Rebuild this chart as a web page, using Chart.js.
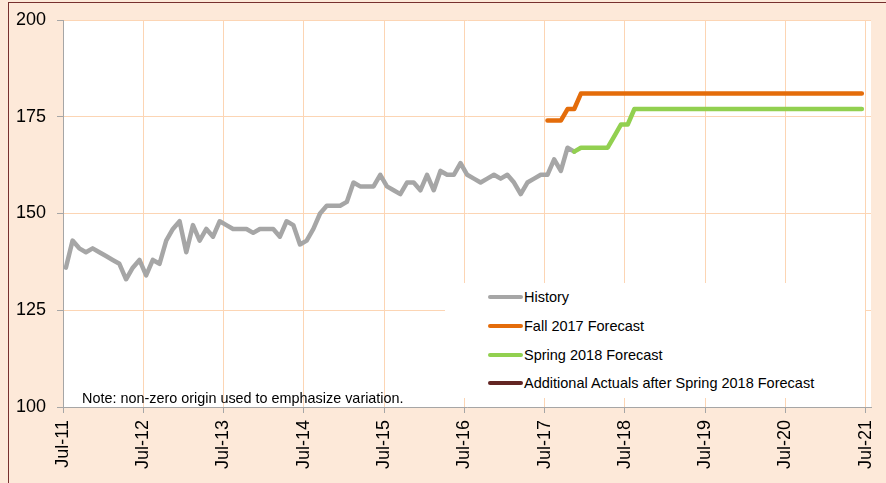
<!DOCTYPE html>
<html><head><meta charset="utf-8">
<script src="https://cdn.jsdelivr.net/npm/chart.js@4/dist/chart.umd.min.js"></script>
<style>
html,body{margin:0;padding:0;background:#FDE9D9;overflow:hidden}
#wrap{position:relative;width:886px;height:483px}
canvas{position:absolute;left:0;top:0}
#legend{position:absolute;left:445px;top:283px;width:420px;height:115px;background:#fff;font-family:"Liberation Sans",Arial,sans-serif;font-size:14.5px;color:#000}
.item{position:absolute;left:43px;height:20px;display:flex;align-items:center;white-space:nowrap}
.sw{width:35px;height:4.5px;border-radius:3px;margin-right:1px}
#note{position:absolute;left:82px;top:390px;font-family:"Liberation Sans",Arial,sans-serif;font-size:14.4px;line-height:16px;white-space:nowrap;color:#000}
</style>
</head><body>
<div id="wrap">
<canvas id="c" width="886" height="483"></canvas>
<div id="legend"></div>
<div id="note">Note: non-zero origin used to emphasize variation.</div>
</div>
<script>
// month index 0 = Jul-11
const tickLabels = ['Jul-11','Jul-12','Jul-13','Jul-14','Jul-15','Jul-16','Jul-17','Jul-18','Jul-19','Jul-20','Jul-21'];
const tickMonths = [0,12,24,36,48,60,72,84,96,108,120];
const yTicks = [100,125,150,175,200];

const historyStart = 0;
const historyValues = [
  136,143,141,140,141,140,139,138,137,133,136,138,
  134,138,137,143,146,148,140,147,143,146,144,148,
  147,146,146,146,145,146,146,146,144,148,147,142,
  143,146,150,152,152,152,153,158,157,157,157,160,
  157,156,155,158,158,156,160,156,161,160,160,163,
  160,159,158,159,160,159,160,158,155,158,159,160,
  160,164,161,167,166
];

const fallStart = 72;
const fallValues = [
  174,174,174,177,177,181,181,181,181,181,181,181,
  181,181,181,181,181,181,181,181,181,181,181,181,
  181,181,181,181,181,181,181,181,181,181,181,181,
  181,181,181,181,181,181,181,181,181,181,181,181
];

const springStart = 76;
const springValues = [
  166,167,167,167,167,167,170,173,173,177,177,177,
  177,177,177,177,177,177,177,177,177,177,177,177,
  177,177,177,177,177,177,177,177,177,177,177,177,
  177,177,177,177,177,177,177,177
];

const additionalStart = 0;
const additionalValues = [];

const seriesNames = ['History','Fall 2017 Forecast','Spring 2018 Forecast','Additional Actuals after Spring 2018 Forecast'];
const seriesColors = ['#A6A6A6','#E46C0A','#92D050','#632523'];

const midMonth = 0.43;
function pts(start, vals){ return vals.map((v,i)=>({x:start+i+midMonth, y:v})); }

const datasets = [
  {label:seriesNames[0], data:pts(historyStart,historyValues), borderColor:seriesColors[0], order:3},
  {label:seriesNames[1], data:pts(fallStart,fallValues), borderColor:seriesColors[1], order:2},
  {label:seriesNames[2], data:pts(springStart,springValues), borderColor:seriesColors[2], order:1},
  {label:seriesNames[3], data:pts(additionalStart,additionalValues), borderColor:seriesColors[3], order:0}
];

const FONT = '"Liberation Sans", Arial, sans-serif';
const GRID = '#FCD5B4';
const AXIS = '#A6A6A6';

const bgPlugin = {
  id:'bg',
  beforeDraw(chart){
    const {ctx, chartArea:a, width, height} = chart;
    ctx.save();
    ctx.fillStyle = '#FDE9D9';
    ctx.fillRect(0,0,width,height);
    ctx.fillStyle = '#77302E';
    ctx.fillRect(8,2,1,height-2);
    ctx.fillRect(8,2,width-8,1);
    ctx.fillStyle = '#FFFFFF';
    ctx.fillRect(a.left,a.top,a.right-a.left,a.bottom-a.top);
    ctx.restore();
  }
};

new Chart(document.getElementById('c'), {
  type:'line',
  data:{datasets},
  options:{
    responsive:false, animation:false,
    layout:{padding:{left:0,top:20,right:15,bottom:0}},
    plugins:{legend:{display:false}, tooltip:{enabled:false}},
    elements:{
      point:{radius:0, hoverRadius:0},
      line:{tension:0, borderWidth:4.5, borderCapStyle:'round', borderJoinStyle:'round', fill:false}
    },
    scales:{
      x:{
        type:'linear', min:0, max:120.8,
        afterBuildTicks:s=>{ s.ticks = tickMonths.map(v=>({value:v})); },
        afterFit:s=>{ s.height = 76; s.paddingLeft = 0; s.paddingRight = 0; },
        grid:{color:GRID, tickColor:AXIS, tickLength:6, lineWidth:1},
        border:{color:AXIS, width:1},
        ticks:{minRotation:90, maxRotation:90, autoSkip:false, padding:7, color:'#000',
          font:{family:FONT, size:18},
          callback:(v)=>tickLabels[tickMonths.indexOf(v)]}
      },
      y:{
        min:100, max:200,
        afterBuildTicks:s=>{ s.ticks = yTicks.map(v=>({value:v})); },
        afterFit:s=>{ s.width = 63; s.paddingTop = 0; s.paddingBottom = 0; },
        grid:{color:GRID, tickColor:AXIS, tickLength:6, lineWidth:1},
        border:{color:AXIS, width:1},
        ticks:{padding:11, color:'#000', font:{family:FONT, size:18}, callback:v=>String(v)}
      }
    }
  },
  plugins:[bgPlugin]
});

const legend = document.getElementById('legend');
const rowTops = [4,33,62,90];
datasets.forEach((d,i)=>{
  const it = document.createElement('div');
  it.className='item'; it.style.top = rowTops[i]+'px';
  const sw = document.createElement('span'); sw.className='sw'; sw.style.background=d.borderColor;
  const tx = document.createElement('span'); tx.textContent = d.label;
  it.appendChild(sw); it.appendChild(tx); legend.appendChild(it);
});
</script>
</body></html>
